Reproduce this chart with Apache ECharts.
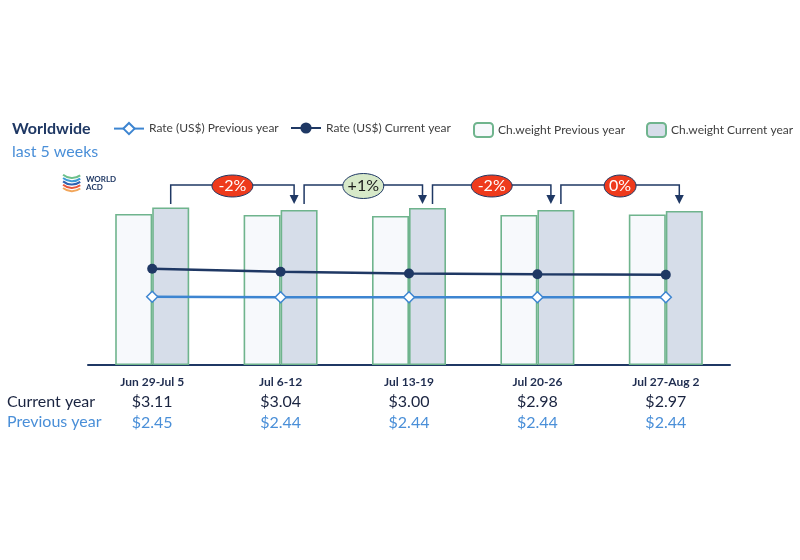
<!DOCTYPE html>
<html lang="en">
<head>
  <meta charset="UTF-8">
  <title>Worldwide last 5 weeks</title>
  <style>
    html, body { margin: 0; padding: 0; background: #fff; }
    #main { width: 800px; height: 560px; }
  </style>
</head>
<body>
<div id="main"></div>
<script src="https://cdn.jsdelivr.net/npm/echarts@6/dist/echarts.min.js"></script>
<script type="text/javascript">
  // weeks on the x axis
  const weeks = ['Jun 29-Jul 5', 'Jul 6-12', 'Jul 13-19', 'Jul 20-26', 'Jul 27-Aug 2']
  // rate in US$ per kg
  const rateCurrent = [3.11, 3.04, 3.00, 2.98, 2.97]
  const ratePrevious = [2.45, 2.44, 2.44, 2.44, 2.44]
  // chargeable weight, relative units (no scale shown on the chart)
  const weightPrevious = [151, 150, 149, 150, 150.5]
  const weightCurrent = [157.5, 155, 157, 155, 154]
  // week-on-week change of current year weight
  const changeLabels = ['-2%', '+1%', '-2%', '0%']

  const navy = '#1f3864'
  const blue = '#3d85d1'
  const green = '#6fb48d'
  const font = 'Lato, "Open Sans", sans-serif'
  const money = (v) => '$' + v.toFixed(2)

  const chart = echarts.init(document.getElementById('main'))

  const legendBase = {
    top: 117,
    itemHeight: 14,
    itemGap: 7,
    textStyle: {fontFamily: font, fontSize: 12, color: '#404040'}
  }

  const option = {
    animation: false,
    textStyle: {fontFamily: font},
    legend: [
      Object.assign({left: 108, itemWidth: 30, data: ['Rate (US$) Previous year']}, legendBase),
      Object.assign({left: 285, itemWidth: 30, data: ['Rate (US$) Current year']}, legendBase),
      Object.assign({left: 468, itemWidth: 19, data: ['Ch.weight Previous year']}, legendBase),
      Object.assign({left: 641, itemWidth: 19, data: ['Ch.weight Current year']}, legendBase)
    ],
    grid: {left: 88, right: 70, top: 165, bottom: 195},
    xAxis: {
      type: 'category',
      data: weeks,
      axisTick: {show: false},
      axisLine: {lineStyle: {color: navy, width: 2}},
      axisLabel: {
        margin: 8,
        formatter: (v, i) => '{cat|' + v + '}\n{cur|' + money(rateCurrent[i]) + '}\n{prev|' + money(ratePrevious[i]) + '}',
        rich: {
          cat: {fontFamily: font, fontWeight: 'bold', fontSize: 12, lineHeight: 18, color: '#1f2d50'},
          cur: {fontFamily: font, fontSize: 16, lineHeight: 22, color: '#1a2440'},
          prev: {fontFamily: font, fontSize: 16, lineHeight: 20, color: '#4a8fd8'}
        }
      }
    },
    yAxis: [
      {type: 'value', min: 0, max: 200, show: false},
      {type: 'value', min: 0.84, max: 5.56, show: false}
    ],
    series: [
      {
        name: 'Ch.weight Previous year',
        type: 'bar',
        barWidth: 37,
        barGap: '0%',
        itemStyle: {color: '#f7f9fc', borderColor: green, borderWidth: 1.6},
        data: weightPrevious
      },
      {
        name: 'Ch.weight Current year',
        type: 'bar',
        barWidth: 37,
        barGap: '0%',
        itemStyle: {color: '#d6dde9', borderColor: green, borderWidth: 1.6},
        data: weightCurrent
      },
      {
        name: 'Rate (US$) Previous year',
        type: 'line',
        yAxisIndex: 1,
        symbol: 'diamond',
        symbolSize: 11,
        showAllSymbol: true,
        lineStyle: {color: blue, width: 2.5},
        itemStyle: {color: '#fff', borderColor: blue, borderWidth: 1.5},
        data: ratePrevious
      },
      {
        name: 'Rate (US$) Current year',
        type: 'line',
        yAxisIndex: 1,
        symbol: 'circle',
        symbolSize: 10,
        showAllSymbol: true,
        lineStyle: {color: navy, width: 2.5},
        itemStyle: {color: navy},
        data: rateCurrent
      }
    ]
  }

  chart.setOption(option)

  // titles, row headers and logo
  const graphics = [
    {type: 'text', left: 12, top: 121, style: {text: 'Worldwide', fontFamily: font, fontSize: 16, fontWeight: 'bold', fill: navy}},
    {type: 'text', left: 12, top: 144, style: {text: 'last 5 weeks', fontFamily: font, fontSize: 16, fill: '#4a8fd8'}},
    {type: 'text', left: 7, top: 394, style: {text: 'Current year', fontFamily: font, fontSize: 16, fill: '#1a2440'}},
    {type: 'text', left: 7, top: 414, style: {text: 'Previous year', fontFamily: font, fontSize: 16, fill: '#4a8fd8'}}
  ]

  const logoColors = ['#6cc08b', '#3d9bd6', '#2f62b0', '#e8563a', '#f2a65a']
  logoColors.forEach((c, k) => {
    graphics.push({
      type: 'arc',
      shape: {cx: 72, cy: 164 + k * 3.3, r: 14, startAngle: Math.PI * 0.3, endAngle: Math.PI * 0.72},
      style: {stroke: c, lineWidth: 2, fill: null}
    })
  })
  graphics.push({type: 'text', left: 86, top: 175, style: {text: 'WORLD\nACD', fontFamily: font, fontSize: 8, fontWeight: 'bold', lineHeight: 8, fill: navy}})

  // brackets with change bubbles, placed from the axis positions
  const lineY = 185
  const footY = 204
  const half = 37 / 2
  for (let i = 0; i < changeLabels.length; i++) {
    const x0 = chart.convertToPixel({xAxisIndex: 0}, weeks[i]) + half + (i > 0 ? 5 : 0)
    const x1 = chart.convertToPixel({xAxisIndex: 0}, weeks[i + 1]) + half - 5
    graphics.push({
      type: 'polyline',
      shape: {points: [[x0, footY], [x0, lineY], [x1, lineY], [x1, footY - 8]]},
      style: {stroke: navy, lineWidth: 1.5, fill: null}
    })
    graphics.push({
      type: 'polygon',
      shape: {points: [[x1 - 4.5, footY - 9], [x1 + 4.5, footY - 9], [x1, footY]]},
      style: {fill: navy}
    })
    const lab = changeLabels[i]
    const up = lab.charAt(0) === '+'
    const rx = lab.length > 2 ? 20.5 : 16
    const cx = (x0 + x1) / 2
    graphics.push({
      type: 'ellipse',
      shape: {cx: cx, cy: lineY + 1, rx: rx, ry: up ? 12.5 : 11},
      style: {fill: up ? '#d7e9c9' : '#ee3a1c', stroke: navy, lineWidth: 1}
    })
    graphics.push({
      type: 'text',
      x: cx,
      y: lineY + 1,
      style: {
        text: lab, fontFamily: font, fontSize: 16,
        fill: up ? '#1a1a1a' : '#fff', align: 'center', verticalAlign: 'middle'
      }
    })
  }

  chart.setOption({graphic: graphics})
</script>
</body>
</html>
